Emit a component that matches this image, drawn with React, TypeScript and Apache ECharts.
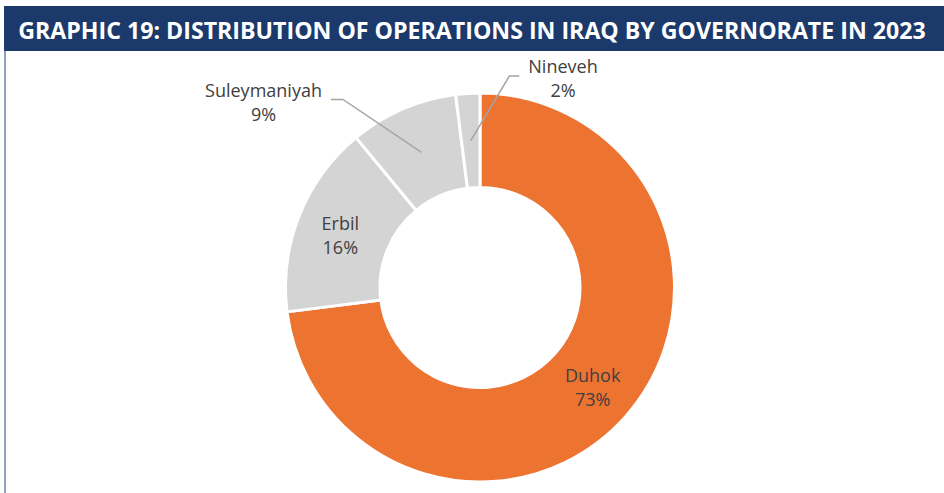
import React, { useEffect, useRef } from 'react';
import * as echarts from 'echarts';

const TITLE = 'GRAPHIC 19: DISTRIBUTION OF OPERATIONS IN IRAQ BY GOVERNORATE IN 2023';
const governorates = ['Duhok', 'Erbil', 'Suleymaniyah', 'Nineveh'];
const shares = [73, 16, 9, 2];
const sliceColors = ['#ED7331', '#D4D4D4', '#D4D4D4', '#D4D4D4'];

const W = 944;
const H = 493;

export default function App() {
  const ref = useRef<HTMLDivElement>(null);
  useEffect(() => {
    document.body.style.margin = '0';
    const chart = echarts.init(ref.current!, null, { renderer: 'svg' });
    const cx = 480, cy = 287.5, rOut = 194.5, rIn = 100;
    const rMid = (rOut + rIn) / 2;
    const labelFont = 'Open Sans';
    const labelSize = 18;
    const lineH = 24;

    const ctx = document.createElement('canvas').getContext('2d')!;
    const titleSize = 23;
    ctx.font = `bold ${titleSize}px "Open Sans"`;
    const tw = ctx.measureText(TITLE).width || 1;
    const sx = 908 / tw;

    // label block centres of the labels set outside the ring
    const outsidePos: Record<string, [number, number]> = {
      Suleymaniyah: [263.5, 101.5],
      Nineveh: [563, 78],
    };

    const total = shares.reduce((a, b) => a + b, 0);
    ctx.font = `${labelSize}px "${labelFont}"`;
    const leaders: any[] = [];
    let cum = 0;
    governorates.forEach((name, i) => {
      const f = (cum + shares[i] / 2) / total;
      cum += shares[i];
      const pos = outsidePos[name];
      if (!pos) return;
      const th = f * Math.PI * 2;
      const start = [cx + rMid * Math.sin(th), cy - rMid * Math.cos(th)];
      const tWidth = Math.max(ctx.measureText(name).width, ctx.measureText(shares[i] + '%').width);
      const isLeft = pos[0] < cx;
      const ly = pos[1] - 2;
      const end = isLeft ? [pos[0] + tWidth / 2 + 9, ly] : [pos[0] - tWidth / 2 - 9, ly];
      const elbow = isLeft ? [end[0] + 12, ly] : [end[0] - 10, ly];
      leaders.push({
        type: 'polyline',
        shape: { points: [start, elbow, end] },
        style: { stroke: '#A5A5A5', lineWidth: 1.5, fill: null },
        silent: true,
        z: 10,
      });
    });

    const data = governorates.map((name, i) => {
      const outside = !!outsidePos[name];
      return {
        name,
        value: shares[i],
        itemStyle: { color: sliceColors[i] },
        label: { position: outside ? 'outside' : 'inside' },
        labelLine: { show: false },
      };
    });

    chart.setOption({
      animation: false,
      backgroundColor: '#ffffff',
      graphic: [
        { type: 'rect', shape: { x: 4, y: 6, width: W - 4, height: 45 }, style: { fill: '#1B3A6B' }, silent: true },
        { type: 'line', shape: { x1: 5, y1: 51, x2: 5, y2: H }, style: { stroke: '#8EA1BE', lineWidth: 2 }, silent: true },
        {
          type: 'text',
          x: 472,
          y: 30,
          scaleX: sx,
          style: {
            text: TITLE,
            fill: '#ffffff',
            font: `bold ${titleSize}px "Open Sans"`,
            align: 'center',
            verticalAlign: 'middle',
          },
          silent: true,
        },
        ...leaders,
      ],
      series: [
        {
          type: 'pie',
          center: [cx, cy],
          radius: [rIn, rOut],
          startAngle: 90,
          clockwise: true,
          avoidLabelOverlap: false,
          itemStyle: { borderColor: '#ffffff', borderWidth: 3 },
          label: {
            show: true,
            formatter: '{b}\n{c}%',
            color: '#404040',
            fontFamily: labelFont,
            fontSize: labelSize,
            lineHeight: lineH,
            align: 'center',
          },
          labelLayout: (p: any) => {
            const name = governorates[p.dataIndex];
            const pos = outsidePos[name];
            if (!pos) return name === 'Erbil' ? { dy: 3 } : {};
            return { x: pos[0], y: pos[1], align: 'center', verticalAlign: 'middle' };
          },
          emphasis: { disabled: true },
          data,
        },
      ],
    });
    return () => chart.dispose();
  }, []);
  return <div ref={ref} style={{ width: W, height: H }} />;
}
